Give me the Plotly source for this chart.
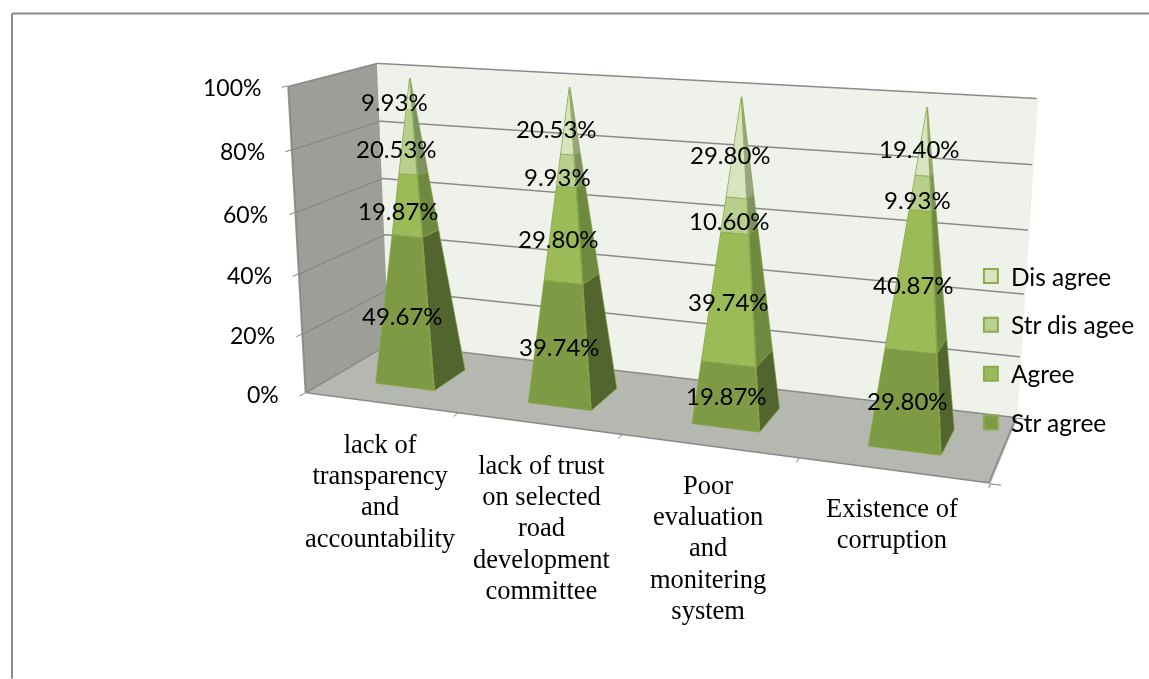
import numpy as np
import plotly.graph_objects as go

categories = [["lack of","transparency","and","accountability"],
              ["lack of trust","on selected","road","development","committee"],
              ["Poor","evaluation","and","monitering","system"],
              ["Existence of","corruption"]]
series_names = ["Str agree", "Agree", "Str dis agee", "Dis agree"]
str_agree = [49.67, 39.74, 19.87, 29.80]
agree = [19.87, 29.80, 39.74, 40.87]
str_dis_agee = [20.53, 9.93, 10.60, 9.93]
dis_agree = [9.93, 20.53, 29.80, 19.40]
series_values = [str_agree, agree, str_dis_agee, dis_agree]
z_ticks = [0, 20, 40, 60, 80, 100]
front_colors = ["#7F9A45", "#9BBB59", "#B9CF8D", "#D7E4BD"]
side_colors = ["#53652F", "#6F8A3E", "#7F9163", "#98A585"]
EDGE = "#8DAA4E"
GRID = "#8a8a8a"
label_xshift = [-16, -13, -10, -6]
cat_xshift = [1, 4, -1, -1]
cat_yshift = [-24, -24, -21, -20]
half_x, half_y = 0.195, 0.2

# Page geometry: the scene's perspective needs a tall viewport placed partly above the page
H = 1344
T = H / 2 - 273.44
x0 = (2 * 639.47 - 1149) / 1149
def py(y):
    return 1 - (y + T) / H

fig = go.Figure()

# gridlines and wall edges, kept a hair inside the axis ranges so that the scene does not clip them
EPS = 0.002
xa, xb = 4 * EPS, 4 - 4 * EPS
ya, yb = EPS, 1 - EPS
def zin(v):
    return min(max(v, 0.2), 99.8)
gx, gy, gz = [], [], []
for v in z_ticks:
    gx += [xa, xa, xb, None]; gy += [ya, yb, yb, None]; gz += [zin(v)] * 3 + [None]
gx += [xa, xa, None, xa, xb, None, xb, xb, None]
gy += [ya, ya, None, ya, ya, None, ya, yb, None]
gz += [zin(0), zin(100), None, zin(0), zin(0), None, zin(0), zin(0), None]
fig.add_trace(go.Scatter3d(x=gx, y=gy, z=gz, mode="lines", line=dict(color=GRID, width=3),
                           showlegend=False, hoverinfo="skip"))

cum = np.zeros(4)
for s, vals in enumerate(series_values):
    X, Y, Z, I, J, K, FC = [], [], [], [], [], [], []
    ex, ey, ez = [], [], []
    for c in range(4):
        z0 = cum[c]; z1 = z0 + vals[c]; cum[c] = z1
        xc = c + 0.5; yc = 0.5
        def ring(z):
            t = 1 - z / 100
            return [(xc - half_x * t, yc - half_y * t, z), (xc + half_x * t, yc - half_y * t, z),
                    (xc + half_x * t, yc + half_y * t, z), (xc - half_x * t, yc + half_y * t, z)]
        a = ring(z0); b = ring(z1)
        n = len(X)
        for v in a + b:
            X.append(v[0]); Y.append(v[1]); Z.append(v[2])
        for q, col in ((0, front_colors[s]), (1, side_colors[s]), (2, side_colors[s]), (3, front_colors[s])):
            q2 = (q + 1) % 4
            I += [n + q, n + q]; J += [n + q2, n + q2 + 4]; K += [n + q2 + 4, n + q + 4]; FC += [col, col]
        for e_ in ([a[0], a[1], a[2]], [b[0], b[1], b[2]], [a[0], b[0]], [a[1], b[1]], [a[2], b[2]]):
            for v in e_:
                ex.append(v[0]); ey.append(v[1]); ez.append(v[2])
            ex.append(None); ey.append(None); ez.append(None)
    fig.add_trace(go.Mesh3d(x=X, y=Y, z=Z, i=I, j=J, k=K, facecolor=FC, flatshading=True, showlegend=False,
                            hoverinfo="skip", lighting=dict(ambient=1, diffuse=0, specular=0, roughness=1, fresnel=0)))
    fig.add_trace(go.Scatter3d(x=ex, y=ey, z=ez, mode="lines", line=dict(color=EDGE, width=3),
                               showlegend=False, hoverinfo="skip"))

for s in reversed(range(4)):
    fig.add_trace(go.Scatter3d(x=[None], y=[None], z=[None], mode="markers", name=series_names[s],
                               legendgroup=series_names[s],
                               marker=dict(symbol="square", size=14, color=front_colors[s],
                                           line=dict(color=EDGE, width=2))))

ann = []
cum = np.zeros(4)
for s, vals in enumerate(series_values):
    for c in range(4):
        ann.append(dict(x=c + 0.5, y=0.5, z=cum[c] + vals[c] / 2, text=f"{vals[c]:.2f}%", showarrow=False,
                        xshift=label_xshift[c], yshift=-10 if s == 0 else -8,
                        font=dict(family="Lato", size=24, color="black")))
        cum[c] += vals[c]
for c, t in enumerate(categories):
    txt = "<br>".join(f'<span style="font-size:26.5px">{l}</span>' for l in t)
    ann.append(dict(x=c + 0.5, y=0, z=0, text=txt, showarrow=False, yanchor="top",
                    xshift=cat_xshift[c], yshift=cat_yshift[c],
                    font=dict(family="Liberation Serif", size=24, color="black")))
for v in z_ticks:
    ann.append(dict(x=0, y=0, z=v, text=f"{v}%", showarrow=False, xanchor="right", xshift=-24, yshift=-1,
                    font=dict(family="Lato", size=23, color="black")))

axcommon = dict(showticklabels=False, title="", showspikes=False, zeroline=False, showline=False,
                ticks="outside", ticklen=8, tickcolor="#808080", tickwidth=2, showbackground=True,
                showgrid=False)
fig.update_layout(
    width=1149, height=H, margin=dict(l=0, r=0, t=0, b=0), paper_bgcolor="white",
    scene=dict(domain=dict(x=[x0, 1], y=[0, 1]),
               aspectmode="manual", aspectratio=dict(x=2.0, y=0.5102, z=0.9099),
               camera=dict(eye=dict(x=1.4893, y=-4.1591, z=1.1355), center=dict(x=-0.0422, y=0, z=-0.0631),
                           up=dict(x=0.0076, y=-0.018, z=1)),
               xaxis=dict(range=[0, 4], dtick=1, tickmode="linear", tick0=0, backgroundcolor="#9C9E98", **axcommon),
               yaxis=dict(range=[0, 1], dtick=1, tickmode="linear", tick0=0, backgroundcolor="#EFF2EB", **axcommon),
               zaxis=dict(range=[0, 100], tick0=0, dtick=20, tickmode="linear", backgroundcolor="#B5B7B1", **axcommon),
               annotations=ann),
    legend=dict(x=0.845, y=py(254), xanchor="left", yanchor="top", font=dict(family="Lato", size=24.5, color="black"),
                tracegroupgap=14, bgcolor="rgba(0,0,0,0)"),
    shapes=[dict(type="line", xref="paper", yref="paper", x0=12 / 1149, x1=1, y0=py(14), y1=py(14),
                 line=dict(color=GRID, width=2)),
            dict(type="line", xref="paper", yref="paper", x0=12 / 1149, x1=12 / 1149, y0=py(679), y1=py(14),
                 line=dict(color=GRID, width=2))])
post = ("document.documentElement.style.overflow='hidden';document.body.style.margin='0';"
        "document.body.style.overflow='hidden';"
        f"document.getElementById('{{plot_id}}').style.marginTop='{-T:.1f}px';")
fig.write_html("out.html", post_script=post)
